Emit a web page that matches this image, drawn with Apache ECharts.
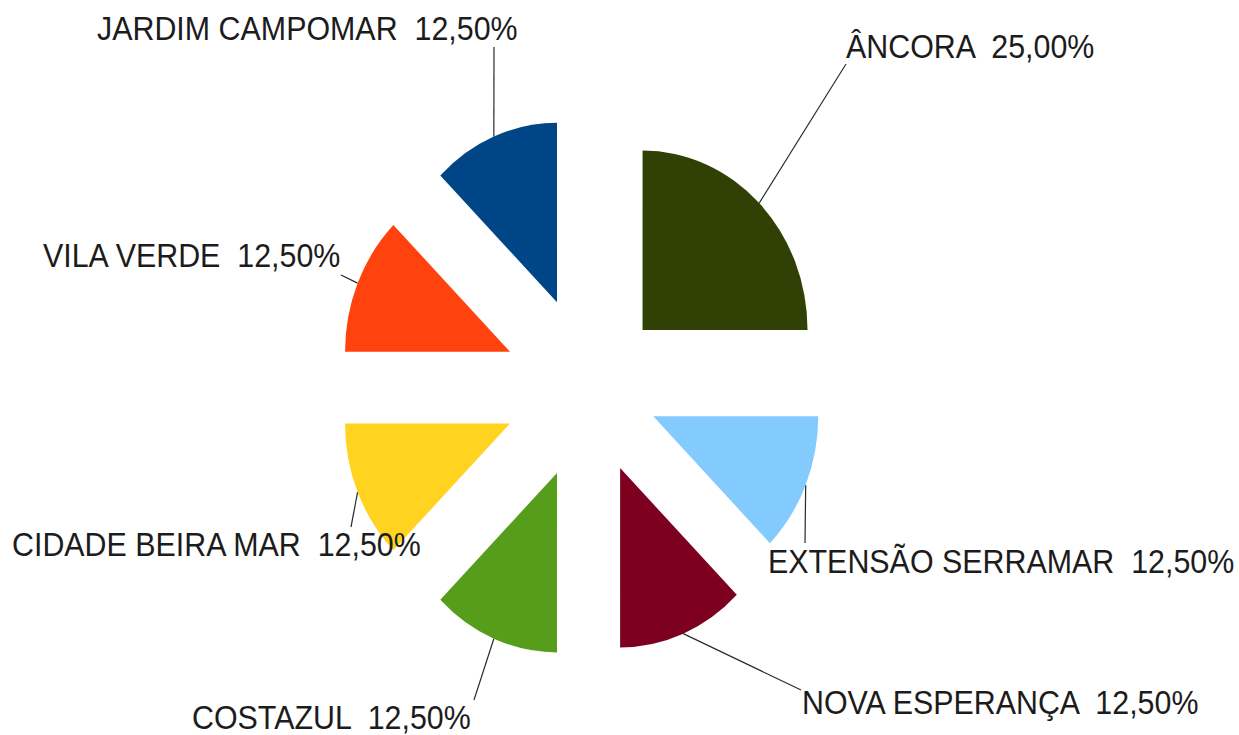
<!DOCTYPE html>
<html>
<head>
<meta charset="utf-8">
<script src="https://cdn.jsdelivr.net/npm/echarts@6/dist/echarts.min.js"></script>
<style>
  html, body { margin: 0; padding: 0; background: #ffffff; overflow: hidden; }
  #wrap { width: 1239px; height: 735px; overflow: hidden; }
  /* the pie is drawn slightly taller than wide */
  #chart { width: 1239px; height: 676px; transform: scaleY(1.087278); transform-origin: 0 0; }
</style>
</head>
<body>
<div id="wrap"><div id="chart"></div></div>
<script>
// Neighbourhood shares (percent), listed counter-clockwise from 12 o'clock
const categories = ['JARDIM CAMPOMAR', 'VILA VERDE', 'CIDADE BEIRA MAR', 'COSTAZUL',
                    'NOVA ESPERANÇA', 'EXTENSÃO SERRAMAR', 'ÂNCORA'];
const shares = [12.5, 12.5, 12.5, 12.5, 12.5, 12.5, 25];
const colors = ['#004586', '#ff420e', '#ffd320', '#579d1c', '#7e0021', '#83caff', '#314004'];

// How far each slice is pulled out of the pie (px)
const pullOut = [85, 86, 86, 85, 80, 69, 75];

// Label placement on the page: text left edge / vertical middle, and the end of each leader line
const labelAnchor = [[97, 29], [43, 256], [12, 545], [192, 718], [802, 703], [768, 562], [846, 47]];
const lineEnd = [[494, 47], [341, 275], [351, 527], [474, 700], [801, 690], [805, 543], [846, 64]];

const SY = 1.087278;        // vertical stretch of the drawing
const CENTER = [589.5, 356.5];
const RADIUS = 165;
const total = shares.reduce((a, b) => a + b, 0);

// displacement of a pulled-out slice along its middle angle
function sliceShift(i) {
  let before = 0;
  for (let k = 0; k < i; k++) before += shares[k];
  const mid = -Math.PI / 2 - (before + shares[i] / 2) / total * Math.PI * 2;
  return [Math.cos(mid) * pullOut[i], Math.sin(mid) * pullOut[i]];
}

const clear = 'rgba(0,0,0,0)';
const basePie = {
  type: 'pie',
  center: CENTER,
  radius: RADIUS,
  startAngle: 90,
  clockwise: false,
  silent: true,
  emphasis: { disabled: true },
  itemStyle: { borderWidth: 0 }
};

// one layer per slice, so every slice keeps its own pull-out distance
const sliceLayers = categories.map((_, i) => Object.assign({}, basePie, {
  selectedMode: 'multiple',
  selectedOffset: pullOut[i],
  label: { show: false },
  labelLine: { show: false },
  data: categories.map((name, k) => ({
    name: name,
    value: shares[k],
    selected: k === i,
    itemStyle: { color: k === i ? colors[k] : clear, borderWidth: 0 }
  }))
}));

// callout labels with leader lines from the pulled-out arcs
const labelLayer = Object.assign({}, basePie, {
  avoidLabelOverlap: false,
  selectedMode: false,
  itemStyle: { color: clear, borderWidth: 0 },
  data: categories.map((name, k) => ({ name: name, value: shares[k] })),
  label: {
    show: true,
    position: 'outside',
    fontFamily: 'Liberation Sans',
    fontSize: 30.4,
    lineHeight: 26,
    color: '#1c1c1c',
    formatter: p => p.name + '  ' + p.percent.toFixed(2).replace('.', ',') + '%'
  },
  labelLine: {
    show: true,
    length: 10,
    length2: 0,
    lineStyle: { color: '#2a2a2a', width: 1.2 }
  },
  labelLayout: function (params) {
    const i = params.dataIndex;
    const sh = sliceShift(i);
    const p0 = params.labelLinePoints ? params.labelLinePoints[0] : [0, 0];
    return {
      x: labelAnchor[i][0],
      y: labelAnchor[i][1] / SY,
      align: 'left',
      verticalAlign: 'middle',
      labelLinePoints: [[p0[0] + sh[0], p0[1] + sh[1]], [lineEnd[i][0], lineEnd[i][1] / SY]]
    };
  }
});

const chart = echarts.init(document.getElementById('chart'), null, { renderer: 'svg' });
chart.setOption({
  animation: false,
  backgroundColor: '#ffffff',
  series: sliceLayers.concat([labelLayer])
});
</script>
</body>
</html>
